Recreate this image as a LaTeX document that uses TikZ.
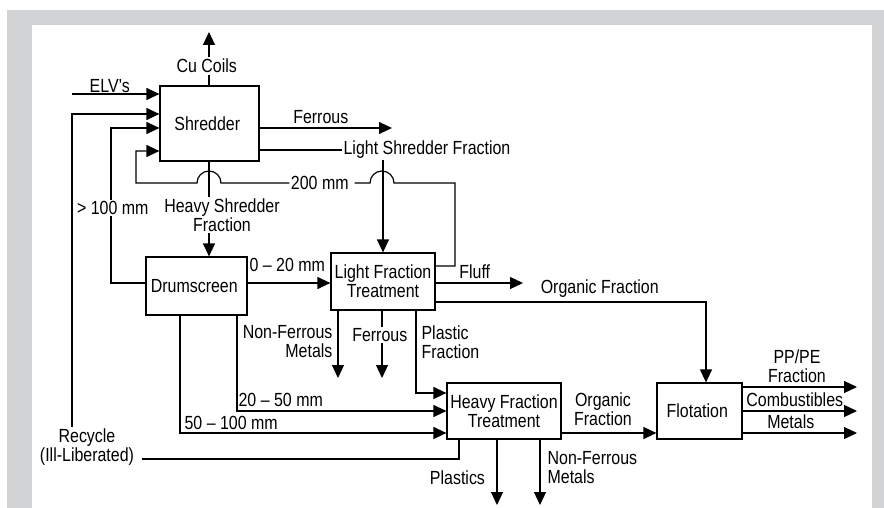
\documentclass[tikz,border=0pt]{standalone}
\usepackage{fontspec}
\setmainfont{Liberation Sans}[FakeStretch=0.84]
\usepackage{tikz}
\usetikzlibrary{arrows.meta,positioning,calc}
\definecolor{framegray}{RGB}{209,211,212}
\tikzset{
  box/.style={draw, inner sep=0pt, align=center},
  lbl/.style={inner sep=1pt, align=center},
  wlbl/.style={lbl, fill=white},
  arr/.style={-{Triangle[length=13pt,width=12pt]}},
}

\begin{document}
\begin{tikzpicture}[x=1pt,y=1pt,line width=1.2pt,
    every node/.style={font=\fontsize{19}{19}\selectfont}]

    % frame
    \fill [white] (0,0) rectangle (884,-508);
    \fill [framegray] (7,-10) rectangle (884,-508);
    \fill [white] (32,-25) rectangle (872,-508);

    % process boxes
    \node [box, minimum width=99pt, minimum height=75pt] (shredder) at (209.5,-123.5) { Shredder };
    \node [box, minimum width=101pt, minimum height=58pt] (drum) at (196.5,-286) { Drumscreen };
    \node [box, minimum width=104pt, minimum height=57pt] (lft) at (383,-281.5) { Light Fraction\\Treatment };
    \node [box, minimum width=114pt, minimum height=56pt] (hft) at (504,-411) { Heavy Fraction\\Treatment };
    \node [box, minimum width=85pt, minimum height=56pt] (flot) at (699.5,-411) { Flotation };

    % labels
    \node [wlbl] (cu) at (209,-66) { Cu Coils };
    \node [lbl] (elv) at (112,-86) { ELV's };
    \node [lbl] (fe1) at (323,-117) { Ferrous };
    \node [lbl, anchor=west] (lsf) at (342,-150) { Light Shredder Fraction };
    \node [wlbl] (mm200) at (322,-183) { 200 mm };
    \node [wlbl] (hsf) at (222,-215) { Heavy Shredder\\Fraction };
    \node [wlbl] (gt100) at (115,-208) { > 100 mm };
    \node [lbl] (rec) at (87,-447) { Recycle\\(Ill-Liberated) };
    \node [lbl, anchor=west] (mm020) at (248,-265) { 0 – 20 mm };
    \node [lbl, anchor=east, align=right] (nfm1) at (334,-342) { Non-Ferrous\\Metals };
    \node [wlbl] (fe2) at (382,-335) { Ferrous };
    \node [lbl, anchor=west, align=left] (pf) at (420,-342) { Plastic\\Fraction };
    \node [lbl] (fluff) at (477,-272) { Fluff };
    \node [lbl] (of1) at (602,-289) { Organic Fraction };
    \node [lbl, anchor=west] (mm2050) at (237,-400) { 20 – 50 mm };
    \node [lbl, anchor=west] (mm50100) at (183,-423) { 50 – 100 mm };
    \node [lbl] (of2) at (603,-409) { Organic\\Fraction };
    \node [lbl, anchor=east] (plast) at (491,-478) { Plastics };
    \node [lbl, anchor=west, align=left] (nfm2) at (546,-468) { Non-Ferrous\\Metals };
    \node [lbl] (pppe) at (797,-366) { PP/PE\\Fraction };
    \node [lbl] (comb) at (797,-400) { Combustibles };
    \node [lbl] (met) at (793,-422) { Metals };

    % free ends
    \coordinate (cutip) at (209,-32);
    \coordinate (elvin) at (72,-94);
    \coordinate (fetip) at (392,-128);
    \coordinate (nftip1) at (338,-378);
    \coordinate (fetip2) at (382,-378);
    \coordinate (flufftip) at (523,-283);
    \coordinate (plasttip) at (497,-505);
    \coordinate (nftip2) at (540,-505);
    \coordinate (outtip) at (857,0);

    % shredder
    \draw (cu |- shredder.north) -- (cu.south);
    \draw [arr] (cu.north) -- (cutip);
    \draw [arr] (elvin) -- (elvin -| shredder.west);
    \draw [arr] (shredder.east |- fetip) -- (fetip);
    \draw (shredder.east |- lsf) -- (lsf.west);
    \draw [arr] (lsf.south -| lft.north) -- (lft.north);
    \draw (cu |- shredder.south) -- (cu |- hsf.north);
    \draw [arr] (cu |- hsf.south) -- (cu |- drum.north);

    % 200 mm loop, hopping over the two vertical lines
    \draw (lft.east |- 0,-266) -- (455,-266) -- (455,-183) -- (394,-183)
        arc (0:180:12) -- (mm200.east);
    \draw [arr] (mm200.west) -- (221,-183) arc (0:180:12) -- (136,-183)
        -- (136,-151) -- (shredder.west |- 0,-151);

    % drumscreen
    \draw (drum.west |- 0,-283) -| (gt100.south -| 111,0);
    \draw [arr] (gt100.north -| 111,0) |- (shredder.west |- 0,-128);
    \draw [arr] (drum.east |- 0,-283) -- (lft.west |- 0,-283);
    \draw [arr] (drum.south -| 237,0) |- (hft.west |- 0,-411);
    \draw [arr] (drum.south -| 180,0) |- (hft.west |- 0,-433);

    % light fraction treatment
    \draw [arr] (lft.south -| nftip1) -- (nftip1);
    \draw (lft.south -| fe2) -- (fe2.north);
    \draw [arr] (fe2.south) -- (fetip2);
    \draw [arr] (lft.south -| 416,0) |- (hft.west |- 0,-393);
    \draw [arr] (lft.east |- flufftip) -- (flufftip);
    \draw [arr] (lft.east |- 0,-302) -| (flot.north -| 706,0);

    % heavy fraction treatment
    \draw [arr] (hft.east |- 0,-433) -- (flot.west |- 0,-433);
    \draw [arr] (hft.south -| plasttip) -- (plasttip);
    \draw [arr] (hft.south -| nftip2) -- (nftip2);
    \draw (hft.south -| 459,0) |- ([xshift=6pt]rec.east |- 0,-459);
    \draw [arr] (rec.north -| elvin) |- (shredder.west |- 0,-114);

    % flotation
    \draw [arr] (flot.east |- 0,-387) -- (outtip |- 0,-387);
    \draw [arr] (flot.east |- 0,-411) -- (outtip |- 0,-411);
    \draw [arr] (flot.east |- 0,-433) -- (outtip |- 0,-433);
\end{tikzpicture}
\end{document}
